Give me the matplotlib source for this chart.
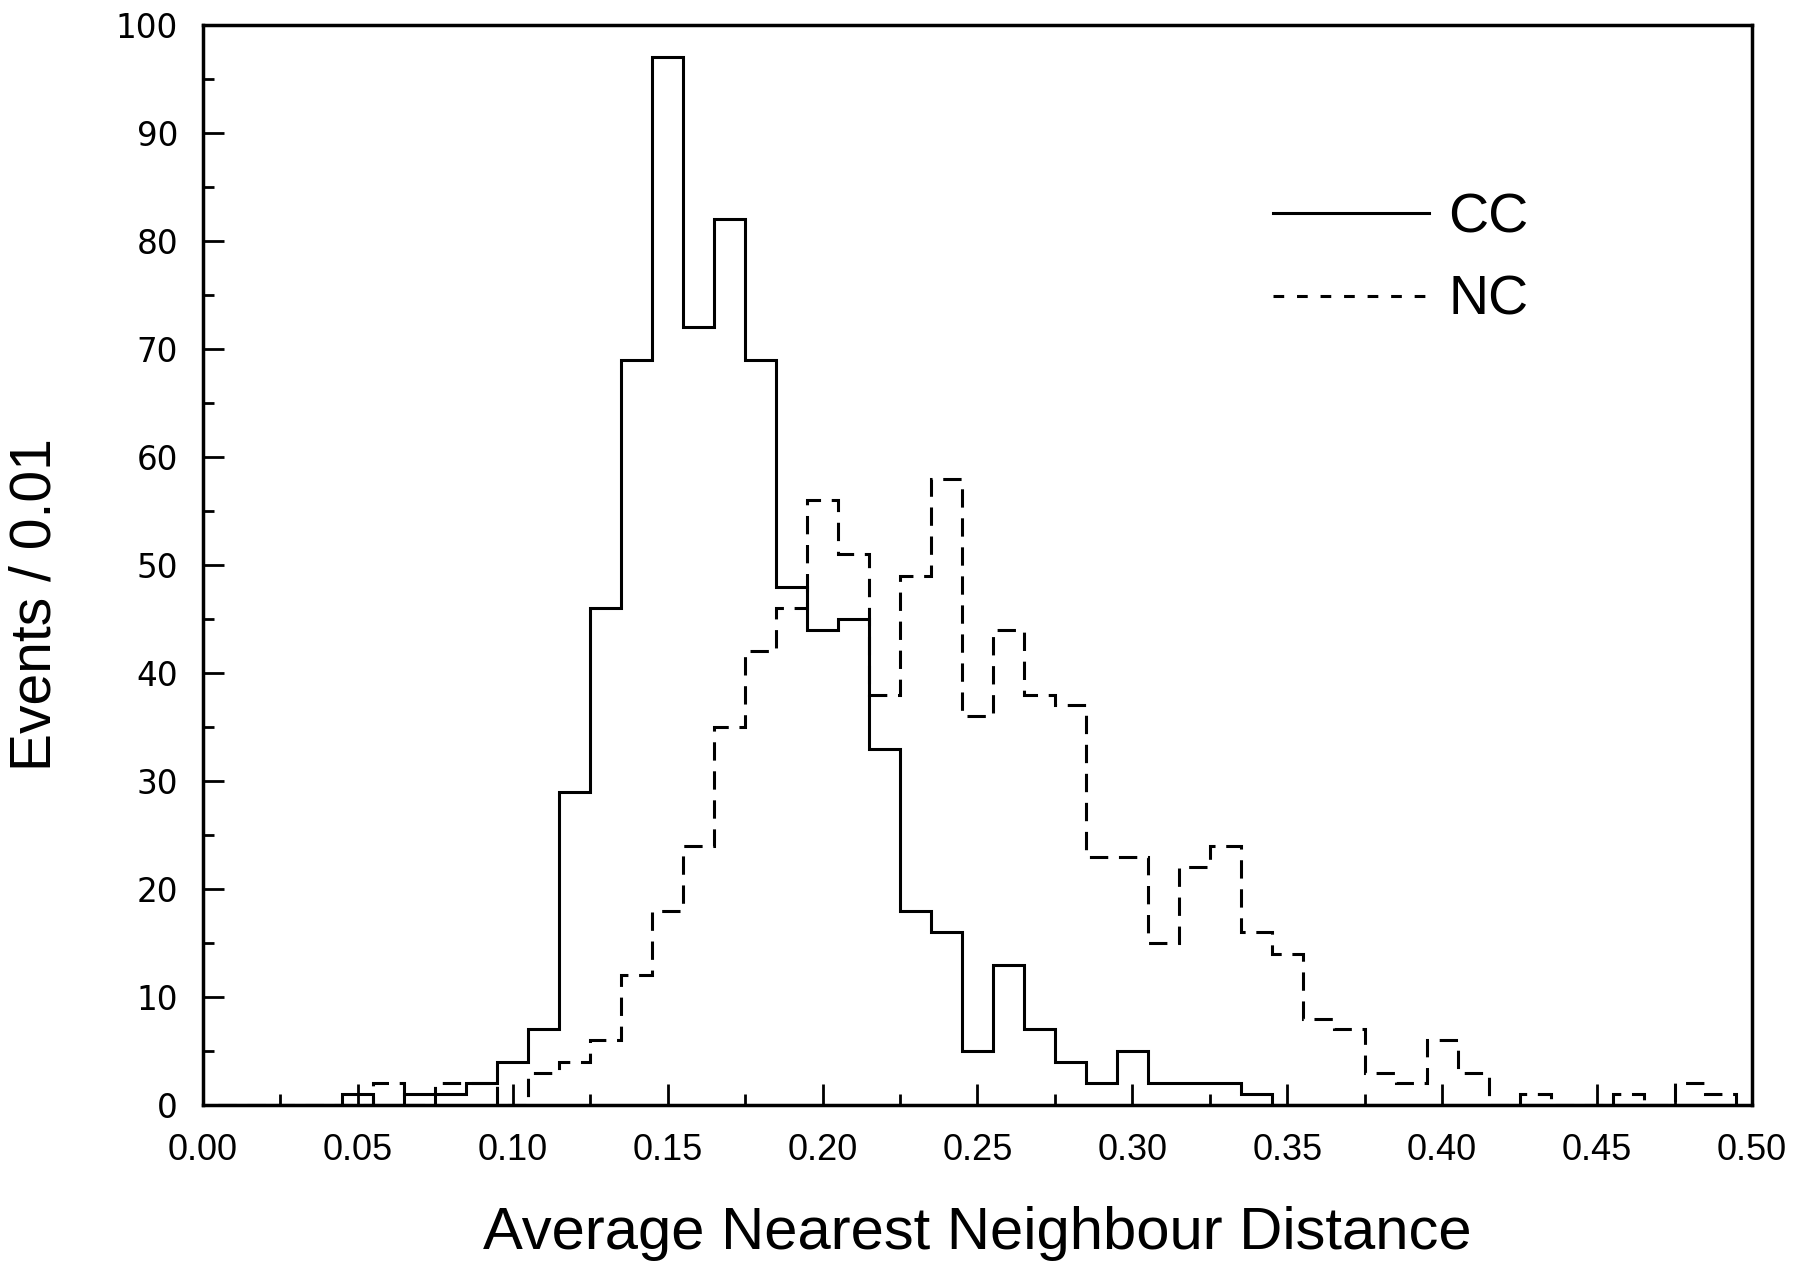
import numpy as np
import matplotlib
matplotlib.use("Agg")
import matplotlib.pyplot as plt
from matplotlib.lines import Line2D
from matplotlib.ticker import MultipleLocator, FormatStrFormatter

# bin centres 0.01 .. 0.49, bin width 0.01
bin_width = 0.01
n_bins = 49

cc_counts = [0, 0, 0, 0, 1, 0, 1, 1, 2, 4,
             7, 29, 46, 69, 97, 72, 82, 69, 48, 44,
             45, 33, 18, 16, 5, 13, 7, 4, 2, 5,
             2, 2, 2, 1, 0, 0, 0, 0, 0, 0,
             0, 0, 0, 0, 0, 0, 0, 0, 0]

nc_counts = [0, 0, 0, 0, 0, 2, 0, 2, 2, 0,
             3, 4, 6, 12, 18, 24, 35, 42, 46, 56,
             51, 38, 49, 58, 36, 44, 38, 37, 23, 23,
             15, 22, 24, 16, 14, 8, 7, 3, 2, 6,
             3, 0, 1, 0, 0, 1, 0, 2, 1]

edges = np.round(bin_width / 2 + bin_width * np.arange(n_bins + 1), 4)

FONT = ["Liberation Sans", "DejaVu Sans"]
plt.rcParams["font.family"] = FONT

fig = plt.figure(figsize=(18.17, 12.64), dpi=100)
fig.patch.set_facecolor("white")
ax = fig.add_axes([0.1117, 0.1258, 0.8525, 0.8544])

lw = 2.2
ax.stairs(cc_counts, edges, baseline=0, color="black", lw=lw)
ax.stairs(nc_counts, edges, baseline=0, color="black", lw=lw,
          linestyle=(0, (6, 3.5)))

ax.set_xlim(0, 0.5)
ax.set_ylim(0, 100)

ax.xaxis.set_major_locator(MultipleLocator(0.05))
ax.xaxis.set_minor_locator(MultipleLocator(0.025))
ax.xaxis.set_major_formatter(FormatStrFormatter("%.2f"))
ax.yaxis.set_major_locator(MultipleLocator(10))
ax.yaxis.set_minor_locator(MultipleLocator(5))

ax.tick_params(which="both", direction="in", top=False, right=False,
               width=2.0, color="black")
ax.tick_params(which="major", length=15)
ax.tick_params(which="minor", length=8)
ax.tick_params(axis="x", which="major", pad=20, labelsize=26)
ax.tick_params(axis="y", which="major", pad=18, labelsize=23.5)
for lab in ax.get_yticklabels():
    lab.set_family(["DejaVu Sans"])

for s in ax.spines.values():
    s.set_linewidth(2.5)

ax.set_xlabel("Average Nearest Neighbour Distance", fontsize=43)
ax.xaxis.label.set_va("center")
ax.xaxis.set_label_coords(0.5, -0.119)

ax.set_ylabel("Events / 0.01", fontsize=41)
ax.yaxis.label.set_va("center")
ax.yaxis.set_label_coords(-0.108, 0.463)

handles = [Line2D([], [], color="black", lw=lw),
           Line2D([], [], color="black", lw=lw, linestyle=(0, (3.5, 4.2)))]
ax.legend(handles, ["CC", "NC"], loc="upper left",
          bbox_to_anchor=(0.691, 0.845), frameon=False, fontsize=40,
          handlelength=2.8, handletextpad=0.35, labelspacing=0.55,
          borderpad=0, borderaxespad=0)

fig.savefig("out.png", dpi=100, facecolor="white")
